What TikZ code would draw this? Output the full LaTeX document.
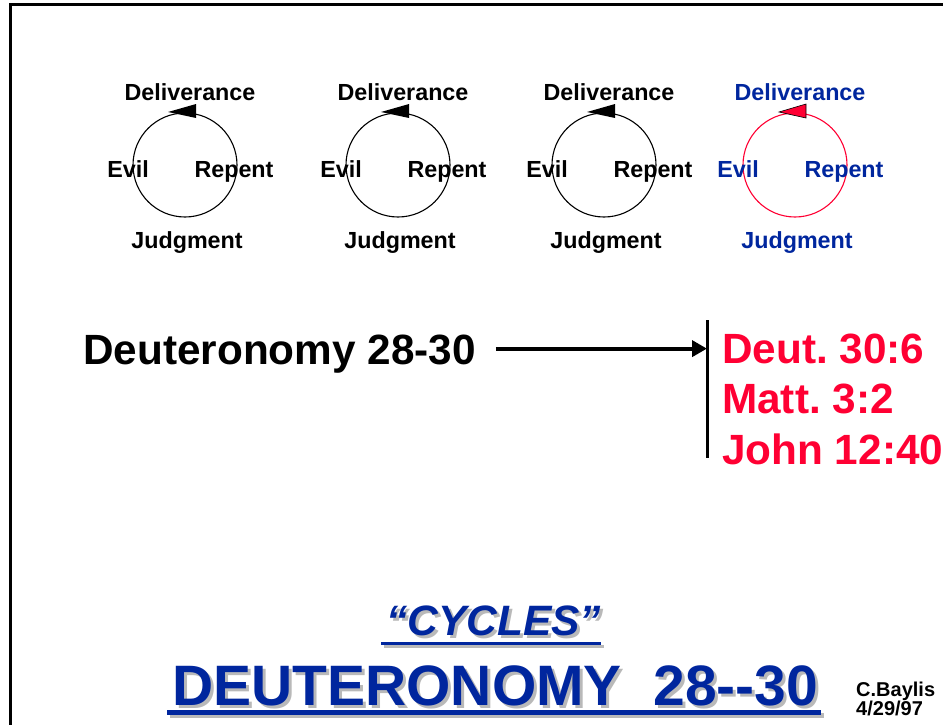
\documentclass[tikz,border=0pt]{standalone}
\usepackage{fontspec}
\setmainfont{Liberation Sans}
\usepackage{tikz}
\usetikzlibrary{calc, arrows.meta}
\usepackage{xcolor}
\definecolor{titleBlue}{RGB}{0, 38, 158}
\definecolor{refRed}{RGB}{255, 0, 51}
\definecolor{shadowGray}{RGB}{185, 185, 185}
\frenchspacing
% text with a grey drop shadow behind it
\newcommand{\shadowed}[1]{\rlap{\hspace{3pt}\raisebox{-3pt}{\color{shadowGray}#1}}#1}

\begin{document}
\begin{tikzpicture}[
  x=1pt, y=-1pt,
  every node/.style={inner sep=0pt, font=\bfseries},
  lbl/.style={anchor=base, font=\fontsize{23.3}{26}\selectfont\bfseries},
  cyc/.style={circle, draw, line width=1.1pt, minimum size=104pt},
  big/.style={anchor=base west, font=\fontsize{42.3}{46}\selectfont\bfseries},
  ul/.style={line width=#1, line cap=butt},
  >={Triangle[length=15pt, width=16pt]}
]
  \useasboundingbox (0,0) rectangle (943,725);
  % slide frame
  \draw[line width=3pt] (10,725) -- (10,5) -- (943,5);

  % the three black cycles
  \foreach \cx/\n in {185/1, 398/2, 604/3} {
    \node[cyc] (c\n) at (\cx,165) {};
    \fill ($(c\n)+(-17,-53)$) -- ($(c\n)+(11,-61)$) -- ($(c\n)+(11,-47)$) -- cycle;
    \node[lbl] (del\n) at (\cx+5,100)  {Deliverance};
    \node[lbl] (evil\n) at (\cx-57,177) {Evil};
    \node[lbl] (rep\n) at (\cx+49,177) {Repent};
    \node[lbl] (judg\n) at (\cx+2,248) {Judgment};
  }
  % last cycle in colour
  \node[cyc, refRed] (c4) at (795,165) {};
  \filldraw[fill=refRed, draw=black, line width=0.6pt]
    ($(c4)+(-16,-53)$) -- ($(c4)+(11,-61)$) -- ($(c4)+(11,-47)$) -- cycle;
  \node[lbl, titleBlue] (del4) at (800,100)  {Deliverance};
  \node[lbl, titleBlue] (evil4) at (738,177) {Evil};
  \node[lbl, titleBlue] (rep4) at (844,177) {Repent};
  \node[lbl, titleBlue] (judg4) at (797,248) {Judgment};

  % Deuteronomy -> references
  \node[big] (deut) at (83,364) {Deuteronomy 28-30};
  \coordinate (barTop) at (707,320);
  \coordinate (barBot) at (707,458);
  \draw[line width=3pt] (barTop) -- (barBot);
  \draw[->, line width=4pt] ([xshift=20pt, yshift=5pt]deut.east) -- ([yshift=5pt]deut.east -| barTop);
  \node[big, refRed] (ref1) at (722,363) {Deut. 30:6};
  \node[big, refRed] (ref2) at (722,413) {Matt. 3:2};
  \node[big, refRed] (ref3) at (722,464) {John 12:40};

  % titles
  \node[big, titleBlue, font=\fontsize{42.5}{46}\selectfont\bfseries\itshape] (cyc) at (386,635) {\shadowed{“CYCLES”}};
  \draw[ul=3pt, shadowGray] ([xshift=-2pt, yshift=-11pt]cyc.base west) -- ([xshift=3pt, yshift=-11pt]cyc.base east);
  \draw[ul=3pt, titleBlue] ([xshift=-5pt, yshift=-8pt]cyc.base west) -- ([yshift=-8pt]cyc.base east);

  \node[big, titleBlue, font=\fontsize{57}{62}\selectfont\bfseries] (title) at (172,705) {\shadowed{DEUTERONOMY\ \ 28-{}-30}};
  \draw[ul=5pt, shadowGray] ([xshift=-2pt, yshift=-10pt]title.base west) -- ([xshift=5pt, yshift=-10pt]title.base east);
  \draw[ul=5pt, titleBlue] ([xshift=-5pt, yshift=-7pt]title.base west) -- ([xshift=2pt, yshift=-7pt]title.base east);

  % author and date
  \node[anchor=base west, font=\fontsize{20}{22}\selectfont\bfseries] (auth) at (856,696) {C.Baylis};
  \node[anchor=base west, font=\fontsize{20}{22}\selectfont\bfseries] (date) at (856,715) {4/29/97};
\end{tikzpicture}
\end{document}
